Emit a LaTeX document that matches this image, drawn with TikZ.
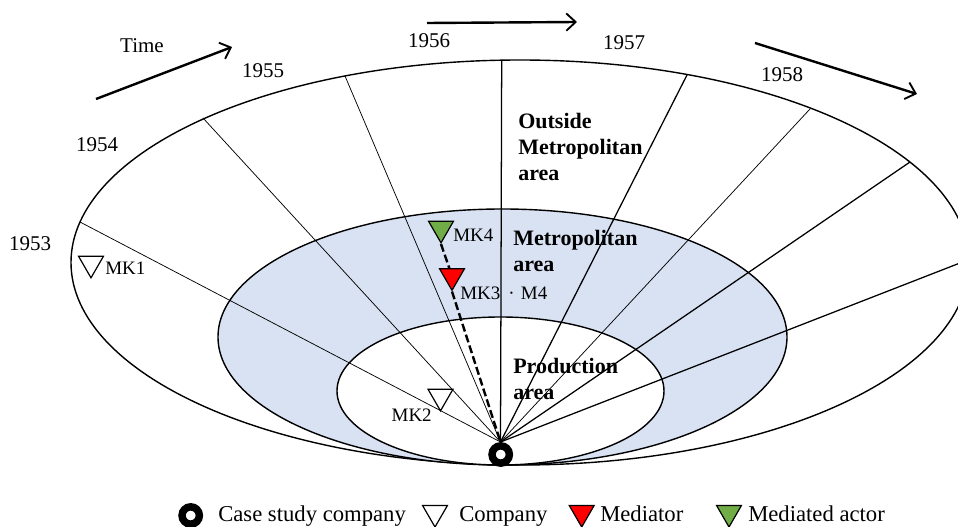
\documentclass[tikz,border=0pt]{standalone}
\usepackage{fontspec}
\setmainfont{Liberation Serif}
\usepackage{xcolor}
\usepackage{tikz}
\usetikzlibrary{arrows.meta,shapes.geometric}
\definecolor{metro}{HTML}{D9E2F3}
\definecolor{mediator}{HTML}{FF0000}
\definecolor{mediated}{HTML}{70AD47}
\tikzset{
  zone/.style={draw=black, line width=1.05pt},
  ray/.style={draw=black, line width=0.95pt},
  rayt/.style={draw=black, line width=0.55pt},
  time/.style={draw=black, line width=1.8pt, -{Straight Barb[length=7pt,width=13pt,line width=1.4pt]}},
  tri/.style={regular polygon, regular polygon sides=3, shape border rotate=180, draw=black, line width=0.9pt, inner sep=0pt, minimum size=21.5pt},
  ring/.style={circle, draw=black, fill=white, line width=5.6pt, inner sep=0pt, minimum size=13pt},
  lab/.style={text=black, font=\fontsize{15.75}{19}\selectfont, inner sep=0pt},
  labs/.style={text=black, font=\fontsize{14.25}{17}\selectfont, inner sep=0pt},
  labl/.style={text=black, font=\fontsize{17}{20}\selectfont, inner sep=0pt, anchor=base west},
  zonelab/.style={text=black, font=\fontsize{16.5}{19.5}\selectfont\bfseries, align=left, anchor=west, inner sep=0pt},
}
\begin{document}
\begin{tikzpicture}[x=0.75pt,y=-0.75pt]
  \clip (0,0) rectangle (958,527);
  % zones
  \draw[zone,fill=white] (520,262.5) ellipse [x radius=449, y radius=202.5];
  \draw[zone,fill=metro] (502.5,337) ellipse [x radius=284.5, y radius=128];
  \draw[zone,fill=white] (500.5,391) ellipse [x radius=163.5, y radius=74];
  % rays
  \coordinate (apex) at (500.5,442);
  \coordinate (y53) at (80,222);
  \coordinate (y54) at (203,118);
  \coordinate (y55) at (345,76);
  \coordinate (y56) at (501.7,60);
  \coordinate (y57) at (687,75);
  \coordinate (y58) at (810,109);
  \coordinate (y59) at (910,162);
  \coordinate (y60) at (960,263);
  \draw[rayt] (apex)--(y53);
  \draw[rayt] (apex)--(y54);
  \draw[rayt] (apex)--(y55);
  \draw[ray] (apex)--(y56);
  \draw[ray] (apex)--(y57);
  \draw[rayt] (apex)--(y58);
  \draw[ray] (apex)--(y59);
  \draw[ray] (apex)--(y60);
  % actors
  \node[ring] (hub) at (500.7,454.5) {};
  \node[tri,fill=white] (mk1) at (91,263.5) {};
  \node[labs,anchor=west] (mk1lab) at (105,268.5) {MK1};
  \node[tri,fill=white] (mk2) at (440.5,396.5) {};
  \node[labs,anchor=east] (mk2lab) at (432,415) {MK2};
  \node[tri,fill=mediated] (mk4) at (441,228.5) {};
  \node[labs,anchor=west] (mk4lab) at (453,235) {MK4};
  \node[tri,fill=mediator] (mk3) at (452,276) {};
  \node[labs,anchor=west] (mk3lab) at (460,293) {MK3\hspace{2.5pt} · \hspace{1pt}M4};
  \draw[black,line width=1.8pt,dash pattern=on 6pt off 2.5pt] (mk4.south)--(mk3);
  \draw[black,line width=1.8pt,dash pattern=on 6pt off 2.5pt] (mk3.south)--(apex);
  % zone names
  \node[zonelab] (outer) at (518,147) {Outside\\Metropolitan\\area};
  \node[zonelab] (middle) at (513,250.5) {Metropolitan\\area};
  \node[zonelab] (inner) at (513,378.5) {Production\\area};
  % years
  \node[lab] (t53) at (30,244) {1953};
  \node[lab] (t54) at (97,145) {1954};
  \node[lab] (t55) at (263,71) {1955};
  \node[lab] (t56) at (429,41) {1956};
  \node[lab] (t57) at (624,43) {1957};
  \node[lab] (t58) at (782,75) {1958};
  \node[lab] (time) at (142,46) {Time};
  % time arrows
  \coordinate (a1) at (96,99);
  \coordinate (b1) at (232,47);
  \coordinate (a2) at (427,23);
  \coordinate (b2) at (577,22);
  \coordinate (a3) at (755,43);
  \coordinate (b3) at (917,94);
  \draw[time] (a1)--(b1);
  \draw[time] (a2)--(b2);
  \draw[time] (a3)--(b3);
  % legend
  \node[ring] (keyhub) at (190.7,515.5) {};
  \node[labl] (keyhublab) at (218,522) {Case study company};
  \node[tri,fill=white] (keyco) at (435,512.7) {};
  \node[labl] (keycolab) at (459,522) {Company};
  \node[tri,fill=mediator] (keymed) at (581.7,512.7) {};
  \node[labl] (keymedlab) at (600,522) {Mediator};
  \node[tri,fill=mediated] (keyact) at (729,512.7) {};
  \node[labl] (keyactlab) at (748,522) {Mediated actor};
\end{tikzpicture}
\end{document}
